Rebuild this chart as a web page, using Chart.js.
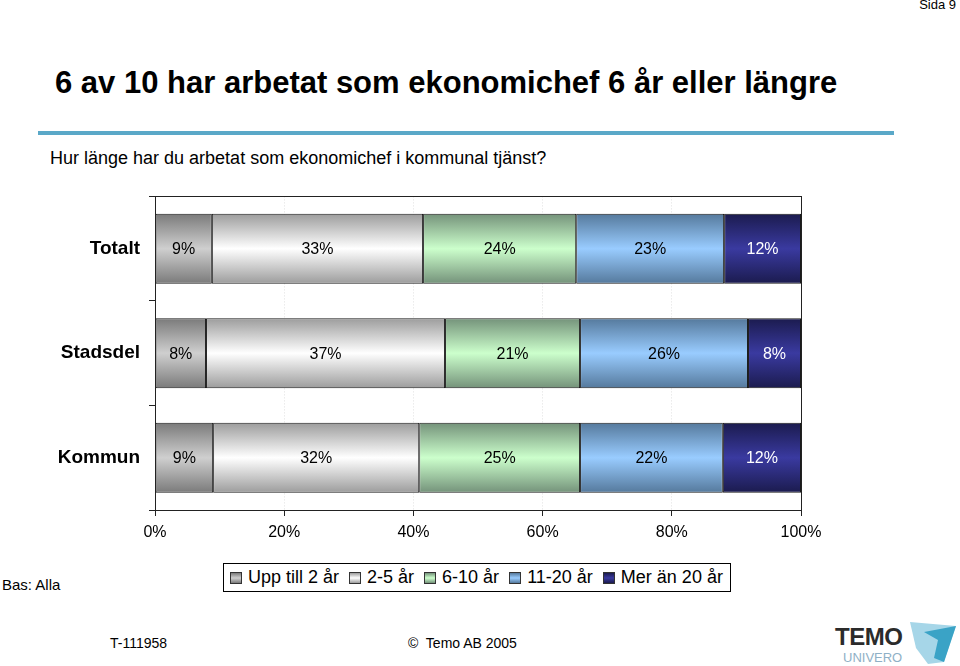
<!DOCTYPE html>
<html lang="sv">
<head>
<meta charset="utf-8">
<title>Ekonomichef</title>
<script src="https://cdn.jsdelivr.net/npm/chart.js@4/dist/chart.umd.min.js"></script>
<style>
  html, body { margin: 0; padding: 0; background: #fff; }
  body { width: 960px; height: 666px; position: relative; overflow: hidden;
         font-family: "Liberation Sans", Arial, sans-serif; color: #000; }
  .abs { position: absolute; white-space: nowrap; line-height: 1.15; }
  #sida { right: 4px; top: -2px; font-size: 13px; }
  #titel { left: 55px; top: 65px; font-size: 31px; font-weight: bold; }
  #linje { left: 38px; top: 131px; width: 856px; height: 4px; background: #5aa8c8; }
  #fraga { left: 50px; top: 148px; font-size: 18px; }
  #wrap { position: absolute; left: 0; top: 176px; width: 960px; height: 374px; }
  #bas { left: 2px; top: 576px; font-size: 15px; }
  #legend { position: absolute; left: 223px; top: 563px; height: 27px; border: 1px solid #000;
            display: flex; align-items: center; padding: 0 7px 0 6px; font-size: 18px; }
  #legend span.item { display: flex; align-items: center; margin-right: 10px; }
  #legend span.item:last-child { margin-right: 0; }
  #legend i { display: inline-block; width: 10px; height: 10px; border: 1px solid #333; margin-right: 6px; }
  #tnr { left: 110px; top: 635px; font-size: 14px; }
  #copy { left: 408px; top: 635px; font-size: 14px; }
  #logo { position: absolute; left: 832px; top: 618px; }
</style>
</head>
<body>
<div class="abs" id="sida">Sida 9</div>
<div class="abs" id="titel">6 av 10 har arbetat som ekonomichef 6 år eller längre</div>
<div class="abs" id="linje"></div>
<div class="abs" id="fraga">Hur länge har du arbetat som ekonomichef i kommunal tjänst?</div>
<div id="wrap"><canvas id="grafArbetstid"></canvas></div>
<div class="abs" id="bas">Bas: Alla</div>
<div id="legend"></div>
<div class="abs" id="tnr">T-111958</div>
<div class="abs" id="copy">©&nbsp; Temo AB 2005</div>
<svg id="logo" width="128" height="48" viewBox="0 0 128 48">
  <text x="3" y="27" font-family="Liberation Sans, Arial" font-weight="bold" font-size="24" letter-spacing="-0.5" fill="#2b2b2b">TEMO</text>
  <text x="11" y="44" font-family="Liberation Sans, Arial" font-size="13" fill="#8fb0c6">UNIVERO</text>
  <polygon points="78,4 124,8 112,44 96,46 84,30" fill="#a6d6e8"/>
  <polygon points="92,14 124,8 112,44 102,40 106,22" fill="#3aa3c6"/>
</svg>

<script>
// categorias e séries (em %)
const categorias = ['Totalt', 'Stadsdel', 'Kommun'];
const series = ['Upp till 2 år', '2-5 år', '6-10 år', '11-20 år', 'Mer än 20 år'];
const uppTill2 = [8.8, 7.9, 9.0];
const tva5 = [32.7, 37.0, 31.9];
const sex10 = [23.7, 20.9, 24.9];
const elva20 = [22.9, 26.0, 22.1];
const merAn20 = [11.9, 8.2, 12.1];
const xTicks = [0, 20, 40, 60, 80, 100];

// cores do gradiente: [borda, meio]
const cores = [
  ['#7a7a7a', '#cfcfcf'],
  ['#9c9c9c', '#ffffff'],
  ['#74927a', '#ccffcc'],
  ['#55799c', '#99ccff'],
  ['#1b1b4e', '#3a3aa0']
];
const BAR_PCT = 0.67;

function gradiente(par) {
  return function (ctx) {
    const chart = ctx.chart;
    const y = chart.scales.y;
    if (!chart.chartArea || !y) return par[1];
    const band = Math.abs(y.getPixelForValue(1) - y.getPixelForValue(0));
    const h = band * BAR_PCT;
    const yc = y.getPixelForValue(ctx.dataIndex);
    const g = chart.ctx.createLinearGradient(0, yc - h / 2, 0, yc + h / 2);
    g.addColorStop(0, par[0]);
    g.addColorStop(0.5, par[1]);
    g.addColorStop(1, par[0]);
    return g;
  };
}

const valores = [uppTill2, tva5, sex10, elva20, merAn20];

// etiquetas de valor no centro de cada segmento
const rotulos = {
  id: 'rotulos',
  afterDatasetsDraw(chart) {
    const c = chart.ctx;
    c.save();
    c.font = '16px "Liberation Sans", Arial, sans-serif';
    c.textAlign = 'center';
    c.textBaseline = 'middle';
    chart.data.datasets.forEach((ds, i) => {
      chart.getDatasetMeta(i).data.forEach((el, j) => {
        c.fillStyle = i === 4 ? '#ffffff' : '#000000';
        c.fillText(Math.round(ds.data[j]) + '%', (el.x + el.base) / 2, el.y + 1);
      });
    });
    c.restore();
  }
};

// moldura da área do gráfico
const moldura = {
  id: 'moldura',
  afterDraw(chart) {
    const a = chart.chartArea;
    const c = chart.ctx;
    c.save();
    c.strokeStyle = '#222';
    c.lineWidth = 1;
    c.strokeRect(Math.round(a.left) + 0.5, Math.round(a.top) + 0.5, Math.round(a.right - a.left), Math.round(a.bottom - a.top));
    c.restore();
  }
};

document.addEventListener('DOMContentLoaded', function () {
  const ctx = document.getElementById('grafArbetstid');

  const chart = new Chart(ctx, {
    type: 'bar',
    data: {
      labels: categorias,
      datasets: series.map((nome, i) => ({
        label: nome,
        data: valores[i],
        backgroundColor: gradiente(cores[i]),
        borderColor: '#1a1a1a',
        borderWidth: 1,
        borderSkipped: false,
        barPercentage: BAR_PCT,
        categoryPercentage: 1
      }))
    },
    options: {
      indexAxis: 'y',
      responsive: true,
      maintainAspectRatio: false,
      animation: false,
      layout: { padding: { left: 0, top: 0, right: 159, bottom: 0 } },
      plugins: {
        legend: { display: false },
        tooltip: { enabled: false }
      },
      scales: {
        x: {
          stacked: true,
          min: 0,
          max: 100,
          afterBuildTicks: (s) => { s.ticks = xTicks.map(v => ({ value: v })); },
          afterFit: (s) => { s.height = 40; },
          border: { color: '#222', dash: [1, 2] },
          grid: { color: '#e0e0e0', tickColor: '#222', tickLength: 6, drawTicks: true },
          ticks: {
            color: '#000',
            padding: 7,
            maxRotation: 0,
            font: { family: '"Liberation Sans", Arial, sans-serif', size: 16 },
            callback: (v) => v + '%'
          }
        },
        y: {
          stacked: true,
          afterFit: (s) => { s.width = 155; },
          border: { color: '#222' },
          grid: { drawOnChartArea: false, tickColor: '#222', tickLength: 6, offset: true },
          ticks: {
            color: '#000',
            padding: 9,
            font: { family: '"Liberation Sans", Arial, sans-serif', size: 19, weight: 'bold' }
          }
        }
      }
    },
    plugins: [rotulos, moldura]
  });

  // legenda manual com caixa
  const leg = document.getElementById('legend');
  chart.data.datasets.forEach((ds, i) => {
    const item = document.createElement('span');
    item.className = 'item';
    const sw = document.createElement('i');
    sw.style.background = 'linear-gradient(to bottom,' + cores[i][0] + ',' + cores[i][1] + ',' + cores[i][0] + ')';
    item.appendChild(sw);
    item.appendChild(document.createTextNode(ds.label));
    leg.appendChild(item);
  });
});
</script>
</body>
</html>
